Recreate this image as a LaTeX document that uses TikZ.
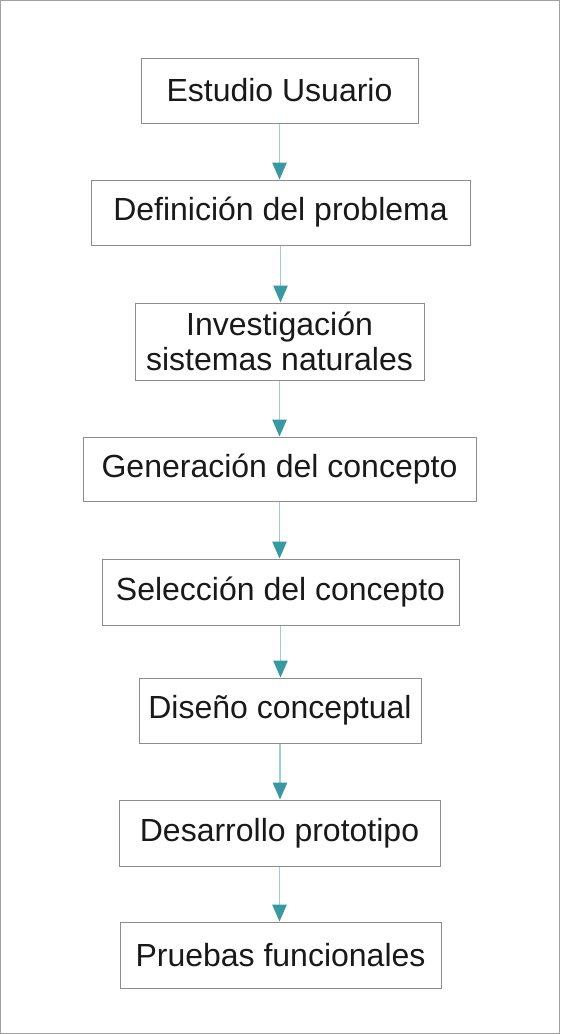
\documentclass[tikz,border=0pt]{standalone}
\usepackage{fontspec}
\setmainfont{Liberation Sans}
\usetikzlibrary{arrows.meta}
\definecolor{boxgray}{HTML}{8C8C8C}
\definecolor{framegray}{HTML}{A0A0A0}
\definecolor{linkteal}{HTML}{9ACFD3}
\definecolor{headteal}{HTML}{3A98A2}
\begin{document}
\begin{tikzpicture}[x=1pt,y=-1pt,
  stepbox/.style={draw=boxgray,line width=1pt,inner sep=0pt,align=center,
    font=\fontsize{32}{35}\selectfont,text=black!90},
  link/.style={draw=linkteal,line width=1.2pt,
    -{Triangle[width=14.5pt,length=17pt,color=headteal,fill=headteal]}}]
\useasboundingbox (0,0) rectangle (560,1034);
\draw[framegray,line width=1.2pt] (0.6,0.6) rectangle (559.4,1033.4);
\node[stepbox,minimum width=277pt,minimum height=65pt] (s1) at (279.5,90.5) {\raisebox{-1.5pt}{Estudio Usuario}};
\node[stepbox,minimum width=379pt,minimum height=65pt] (s2) at (280.5,212.5) {\raisebox{-1.5pt}{Definición del problema}};
\node[stepbox,minimum width=289pt,minimum height=77pt] (s3) at (279.5,341.5) {Investigación\\sistemas naturales};
\node[stepbox,minimum width=393pt,minimum height=64pt] (s4) at (279.5,469) {\raisebox{-1.5pt}{Generación del concepto}};
\node[stepbox,minimum width=357pt,minimum height=66pt] (s5) at (280.5,592) {\raisebox{-1.5pt}{Selección del concepto}};
\node[stepbox,minimum width=282pt,minimum height=65pt] (s6) at (280,710.5) {\raisebox{-1.5pt}{Diseño conceptual}};
\node[stepbox,minimum width=321pt,minimum height=66pt] (s7) at (279.5,833) {\raisebox{-1.5pt}{Desarrollo prototipo}};
\node[stepbox,minimum width=321pt,minimum height=66pt] (s8) at (280.5,955) {\raisebox{-1.5pt}{Pruebas funcionales}};
\foreach \a/\b in {s1/s2,s2/s3,s3/s4,s4/s5,s5/s6,s6/s7,s7/s8}
  \draw[link] (\a.south) -- (\a.south |- \b.north);
\end{tikzpicture}
\end{document}
